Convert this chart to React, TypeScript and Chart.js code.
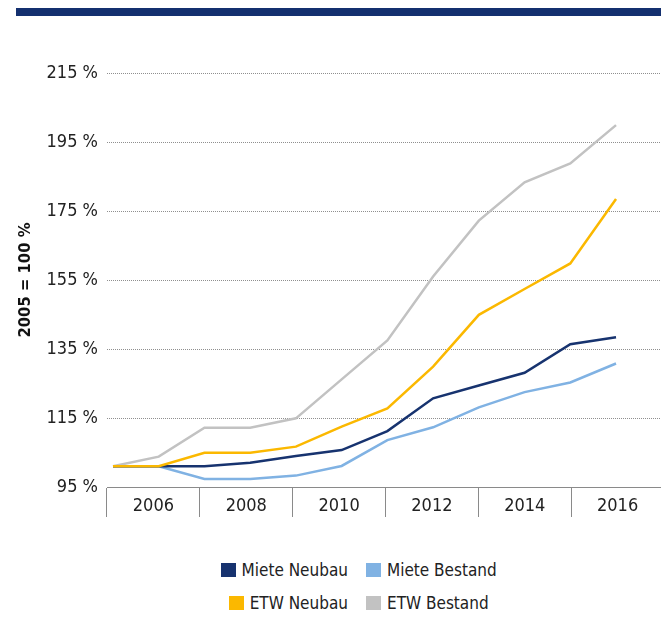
import React, { useEffect, useRef } from "react";
import { Chart, registerables } from "chart.js";

Chart.register(...registerables);

const years = [2005, 2006, 2007, 2008, 2009, 2010, 2011, 2012, 2013, 2014, 2015, 2016];
const axisLabels = ["2006", "2008", "2010", "2012", "2014", "2016"];
const mieteNeubau = [101, 101, 101, 102, 104, 105.7, 111.2, 120.7, 124.4, 128.1, 136.4, 138.4];
const mieteBestand = [101, 101, 97.3, 97.3, 98.3, 101.1, 108.6, 112.3, 118.1, 122.5, 125.3, 130.8];
const etwNeubau = [101, 101, 104.9, 104.9, 106.7, 112.5, 117.8, 129.9, 144.9, 152.4, 159.8, 178.5];
const etwBestand = [101, 103.8, 112.2, 112.2, 114.9, 126.2, 137.5, 156, 172.2, 183.3, 188.8, 199.9];

const seriesNames = ["Miete Neubau", "Miete Bestand", "ETW Neubau", "ETW Bestand"];
const seriesColors = ["#17336f", "#80b2e3", "#fbb800", "#c2c2c2"];
const seriesValues = [mieteNeubau, mieteBestand, etwNeubau, etwBestand];
const seriesOrder = [1, 2, 0, 3];

const FONT = '"Liberation Sans Narrow", "Arial Narrow", "DejaVu Sans Condensed", "Liberation Sans", sans-serif';

export default function App() {
  const ref = useRef<HTMLCanvasElement | null>(null);

  useEffect(() => {
    if (!ref.current) return;
    const chart = new Chart(ref.current, {
      type: "line",
      data: {
        labels: axisLabels,
        datasets: seriesNames.map((name, i) => ({
          label: name,
          data: years.map((y, j) => ({ x: y, y: seriesValues[i][j] })),
          borderColor: seriesColors[i],
          backgroundColor: seriesColors[i],
          borderWidth: 2.5,
          pointRadius: 0,
          tension: 0,
          fill: false,
          xAxisID: "xl",
          yAxisID: "y",
          order: seriesOrder[i],
        })),
      },
      options: {
        animation: false,
        responsive: false,
        maintainAspectRatio: false,
        layout: { padding: { top: 73, left: 0, right: 1, bottom: 0 } },
        plugins: { legend: { display: false }, tooltip: { enabled: false } },
        scales: {
          x: {
            type: "category",
            position: "bottom",
            offset: true,
            grid: {
              offset: true,
              drawOnChartArea: false,
              drawTicks: true,
              tickLength: 30,
              color: "#8a8a8a",
              lineWidth: 1,
            },
            border: { display: true, color: "#8a8a8a", width: 1 },
            ticks: {
              padding: -21,
              color: "#222",
              font: { family: FONT, size: 18 },
              maxRotation: 0,
              autoSkip: false,
            },
            afterFit: (s: any) => {
              s.height = 33;
            },
          },
          xl: {
            type: "linear",
            display: false,
            min: 2004.869,
            max: 2017.049,
          },
          y: {
            type: "linear",
            min: 95,
            max: 215,
            ticks: {
              stepSize: 20,
              padding: 9,
              color: "#222",
              font: { family: FONT, size: 18 },
              callback: (v: any) => `${v} %`,
            },
            grid: {
              drawTicks: false,
              color: "#8f8f8f",
              lineWidth: 1,
              borderDash: [1, 1],
            } as any,
            border: { display: false, dash: [1, 1] },
            title: {
              display: true,
              text: "2005 = 100 %",
              color: "#111",
              font: { family: FONT, size: 16.5, weight: "bold" },
              padding: { top: 16, bottom: 0 },
            },
            afterFit: (s: any) => {
              s.width = 107;
            },
          },
        },
      } as any,
    });
    return () => chart.destroy();
  }, []);

  const legendItems = seriesNames.map((n, i) => ({ name: n, color: seriesColors[i] }));

  return (
    <div
      style={{
        position: "absolute",
        left: 0,
        top: 0,
        width: 661,
        height: 636,
        overflow: "hidden",
        background: "#fff",
      }}
    >
      <div
        style={{
          position: "absolute",
          left: 16,
          top: 8,
          width: 645,
          height: 8,
          background: "#14306f",
        }}
      />
      <canvas
        ref={ref}
        width={665}
        height={520}
        style={{ position: "absolute", left: 0, top: 0, width: 665, height: 520 }}
      />
      <div
        style={{
          position: "absolute",
          left: 0,
          top: 553,
          display: "grid",
          gridTemplateColumns: "348px 18px auto",
          gridAutoRows: "33.5px",
          fontFamily: FONT,
          fontSize: 17,
          color: "#222",
        }}
      >
        {legendItems.map((it, i) => (
          <div
            key={it.name}
            style={{
              gridColumn: i % 2 === 0 ? 1 : 3,
              gridRow: Math.floor(i / 2) + 1,
              justifySelf: i % 2 === 0 ? "end" : "start",
              display: "flex",
              alignItems: "center",
              whiteSpace: "nowrap",
            }}
          >
            <span
              style={{
                display: "inline-block",
                width: 15,
                height: 14,
                background: it.color,
                marginRight: 6,
              }}
            />
            <span>{it.name}</span>
          </div>
        ))}
      </div>
    </div>
  );
}
